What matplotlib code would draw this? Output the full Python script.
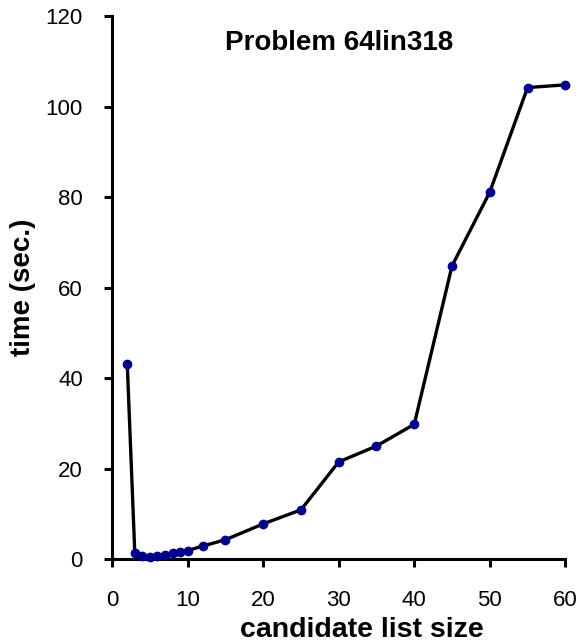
import matplotlib
matplotlib.use("Agg")
from matplotlib import pyplot as plt

plt.rcParams['font.family'] = ['Liberation Sans', 'DejaVu Sans']

# candidate list size vs. time
list_size = [2, 3, 4, 5, 6, 7, 8, 9, 10, 12, 15, 20, 25, 30, 35, 40, 45, 50, 55, 60]
time_sec = [43.2, 1.4, 0.6, 0.5, 0.8, 1.0, 1.3, 1.5, 1.9, 2.9, 4.3, 7.8, 10.9,
            21.5, 25.0, 29.8, 64.8, 81.1, 104.2, 104.8]

xticks = [0, 10, 20, 30, 40, 50, 60]
yticks = [0, 20, 40, 60, 80, 100, 120]

fig = plt.figure(figsize=(5.81, 6.42), dpi=100)
ax = fig.add_axes([0.193, 0.129, 0.780, 0.846])

ax.plot(list_size, time_sec, color='black', lw=2.4, zorder=2)
ax.plot(list_size, time_sec, 'o', color='#00008b', ms=6, zorder=3, clip_on=False)

ax.set_xlim(0, 60)
ax.set_ylim(0, 120)
ax.set_xticks(xticks)
ax.set_yticks(yticks)

for side in ['top', 'right']:
    ax.spines[side].set_visible(False)
for side in ['left', 'bottom']:
    ax.spines[side].set_linewidth(2.2)

ax.tick_params(direction='out', length=5.5, width=2.2, labelsize=16)
ax.tick_params(axis='x', pad=17)
ax.tick_params(axis='y', pad=15.5)

# x axis title sits a bit right of the plot centre in the original
ax.set_xlabel('candidate list size', fontsize=20.5, fontweight='bold')
ax.xaxis.set_label_coords(0.551, -0.1436)
ax.xaxis.label.set_va('baseline')
ax.set_ylabel('time (sec.)', fontsize=20, fontweight='bold', labelpad=7)
ax.text(30, 112.5, 'Problem 64lin318', ha='center', va='baseline',
        fontsize=20, fontweight='bold')

fig.savefig('out.png', dpi=100)
